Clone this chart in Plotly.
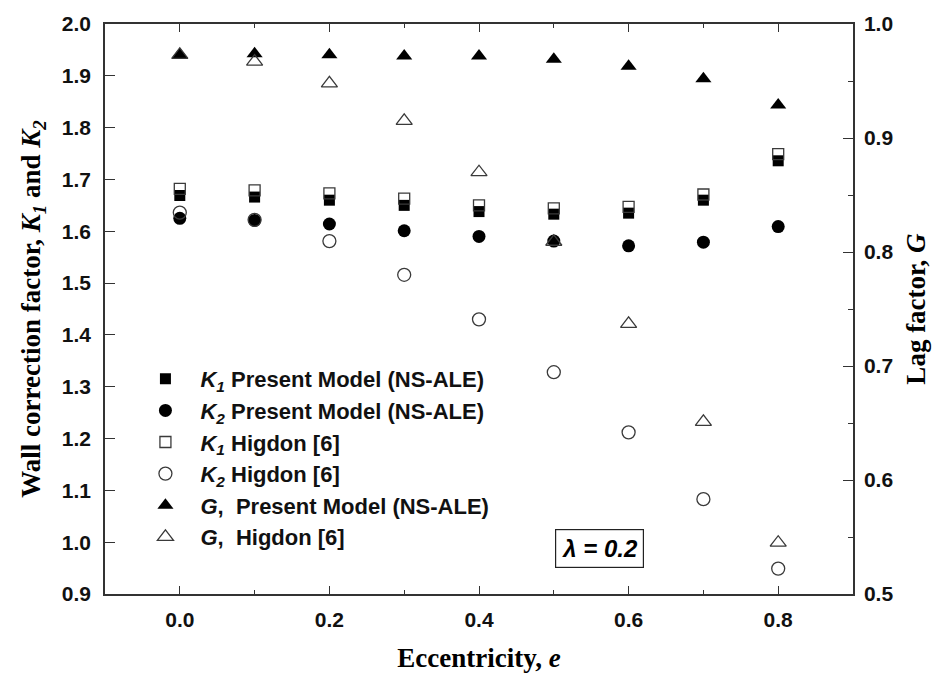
import plotly.graph_objects as go

# ---- data ----
eccentricity = [0.0, 0.1, 0.2, 0.3, 0.4, 0.5, 0.6, 0.7, 0.8]
k1_present = [1.669, 1.666, 1.660, 1.650, 1.638, 1.633, 1.635, 1.660, 1.736]
k2_present = [1.625, 1.621, 1.614, 1.601, 1.590, 1.581, 1.572, 1.579, 1.609]
k1_higdon = [1.682, 1.679, 1.673, 1.663, 1.650, 1.644, 1.647, 1.671, 1.749]
k2_higdon = [1.636, 1.622, 1.581, 1.516, 1.430, 1.328, 1.212, 1.083, 0.949]
g_present = [0.973, 0.974, 0.973, 0.972, 0.972, 0.969, 0.963, 0.952, 0.929]
g_higdon = [0.973, 0.967, 0.948, 0.915, 0.870, 0.809, 0.737, 0.651, 0.545]

names = [
    "<i>K<sub>1</sub></i> Present Model (NS-ALE)",
    "<i>K<sub>2</sub></i> Present Model (NS-ALE)",
    "<i>K<sub>1</sub></i> Higdon [6]",
    "<i>K<sub>2</sub></i> Higdon [6]",
    "<i>G</i>,\u00a0 Present Model (NS-ALE)",
    "<i>G</i>,\u00a0 Higdon [6]",
]

BLACK = "#000000"
GRAY = "#3a3a3a"
SANS = "Liberation Sans"
SERIF = "Liberation Serif"

fig = go.Figure()

fig.add_trace(go.Scatter(x=eccentricity, y=k1_present, mode="markers", name=names[0],
                         marker=dict(symbol="square", size=11, color=BLACK)))
fig.add_trace(go.Scatter(x=eccentricity, y=k2_present, mode="markers", name=names[1],
                         marker=dict(symbol="circle", size=13, color=BLACK)))
fig.add_trace(go.Scatter(x=eccentricity, y=k1_higdon, mode="markers", name=names[2],
                         marker=dict(symbol="square-open", size=11, color=GRAY,
                                     line=dict(width=1.3, color=GRAY))))
fig.add_trace(go.Scatter(x=eccentricity, y=k2_higdon, mode="markers", name=names[3],
                         marker=dict(symbol="circle-open", size=13, color=GRAY,
                                     line=dict(width=1.3, color=GRAY))))
fig.add_trace(go.Scatter(x=eccentricity, y=g_present, mode="markers", name=names[4], yaxis="y2",
                         marker=dict(symbol="triangle-up", size=14, color=BLACK)))
fig.add_trace(go.Scatter(x=eccentricity, y=g_higdon, mode="markers", name=names[5], yaxis="y2",
                         marker=dict(symbol="triangle-up-open", size=14, color=GRAY,
                                     line=dict(width=1.3, color=GRAY))))

fig.add_annotation(x=0.561, y=0.988, xref="x", yref="y",
                   text="<i>λ = 0.2</i>", showarrow=False,
                   font=dict(family=SANS, size=24, color=BLACK, weight="bold"),
                   bordercolor="#222", borderwidth=1.2, borderpad=5, bgcolor="white")

tickfont = dict(family=SANS, size=21, color="#111", weight="bold")
titlefont = dict(family=SERIF, size=27, color=BLACK, weight="bold")

fig.update_layout(
    width=940, height=680,
    margin=dict(l=105, r=87, t=18, b=85),
    paper_bgcolor="white", plot_bgcolor="white",
    showlegend=True,
    legend=dict(x=0.034, y=0.414, xanchor="left", yanchor="top",
                bgcolor="rgba(0,0,0,0)", borderwidth=0,
                font=dict(family=SANS, size=22, color="#111", weight="bold"),
                itemwidth=60, tracegroupgap=0),
    xaxis=dict(range=[-0.1, 0.9], tickmode="linear", tick0=0.0, dtick=0.2,
               tickformat=".1f", ticks="inside", ticklen=8, tickwidth=1.3, tickcolor="#333",
               minor=dict(dtick=0.1, tick0=0.0, ticks="inside", ticklen=4, tickwidth=1.3, tickcolor="#333"),
               showline=True, linecolor="#333", linewidth=1.5, mirror="ticks",
               showgrid=False, zeroline=False, tickfont=tickfont, ticklabelstandoff=6,
               title=dict(text="Eccentricity, <i>e</i>", font=titlefont, standoff=18)),
    yaxis=dict(range=[0.9, 2.0], tickmode="linear", tick0=0.9, dtick=0.1,
               tickformat=".1f", ticks="inside", ticklen=10, tickwidth=1.3, tickcolor="#333",
               showline=True, linecolor="#333", linewidth=1.5,
               showgrid=False, zeroline=False, tickfont=tickfont, ticklabelstandoff=8,
               title=dict(text="Wall correction factor, <i>K<sub>1</sub></i> and <i>K<sub>2</sub></i>",
                          font=titlefont, standoff=13)),
    yaxis2=dict(range=[0.5, 1.0], overlaying="y", side="right", tickmode="linear",
                tick0=0.5, dtick=0.1, tickformat=".1f", ticks="inside", ticklen=10,
                tickwidth=1.3, tickcolor="#333",
                minor=dict(dtick=0.05, ticks="inside", ticklen=5, tickwidth=1.3, tickcolor="#333"),
                showline=True, linecolor="#333", linewidth=1.5,
                showgrid=False, zeroline=False, tickfont=tickfont, ticklabelstandoff=5,
                title=dict(text="Lag factor, <i>G</i>", font=titlefont, standoff=14)),
)

fig.write_html("out.html")
